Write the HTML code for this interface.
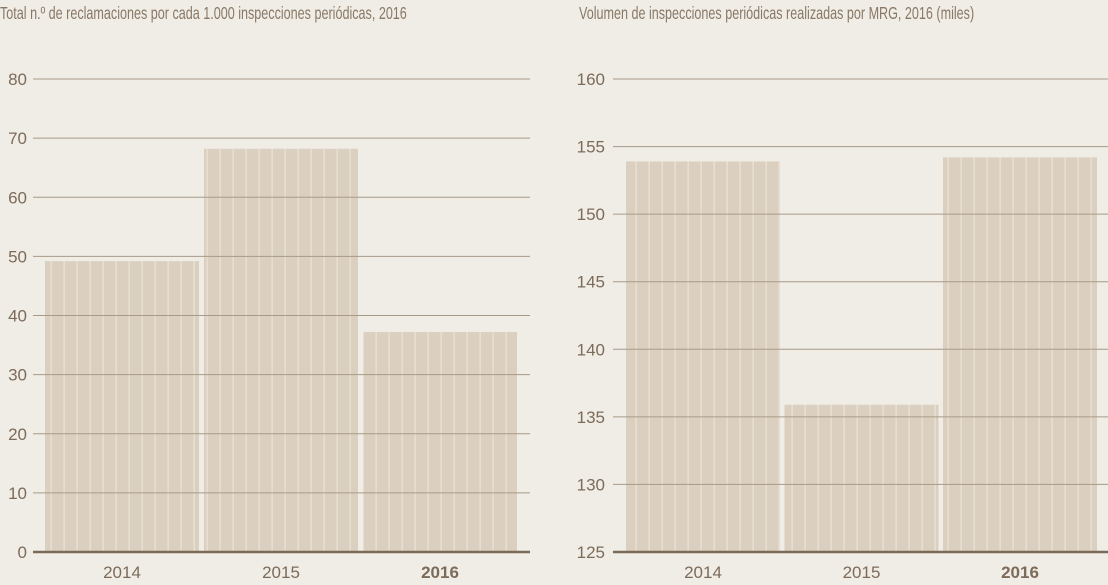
<!DOCTYPE html>
<html><head><meta charset="utf-8"><style>
body{margin:0;background:#efede6;width:1108px;height:585px;overflow:hidden;font-family:"Liberation Sans",sans-serif}
svg{display:block}
</style></head><body>
<svg width="1108" height="585" xmlns="http://www.w3.org/2000/svg">
<defs>
<pattern id="stripes" width="13" height="10" patternUnits="userSpaceOnUse">
<rect width="13" height="10" fill="#dbd0bf"/><rect x="11.5" width="1.3" height="10" fill="#e9e2d6"/>
</pattern>
</defs>
<g id="g1"></g>
<g id="g2"></g>
</svg>
<script>
const cats=["2014","2015","2016"];
const claimsVals=[49.2,68.2,37.2];
const claimsTicks=[0,10,20,30,40,50,60,70,80];
const inspVals=[153.9,135.9,154.2];
const inspTicks=[125,130,135,140,145,150,155,160];
const NS="http://www.w3.org/2000/svg";
function mk(p,t,a){const e=document.createElementNS(NS,t);for(const k in a)e.setAttribute(k,a[k]);p.appendChild(e);return e;}
function draw(g,cfg){
  const y=v=>552-(v-cfg.min)/(cfg.max-cfg.min)*473;
  const t=mk(g,'text',{x:cfg.tx,y:19,fill:'#8a7866','font-size':18,transform:`translate(${cfg.tx},0) scale(0.7,1) translate(${-cfg.tx},0)`});
  t.textContent=cfg.title;
  
  
  cfg.vals.forEach((v,i)=>{
    const x=cfg.bx+i*cfg.step;
    const r=mk(g,'rect',{x:x,y:y(v),width:cfg.bw,height:552-y(v),fill:'url(#stripes)'});
    
    
    const l=mk(g,'text',{x:x+cfg.bw/2,y:578,'text-anchor':'middle',fill:'#7d6b5a','font-size':17,'font-weight':i==2?'bold':'normal'});
    l.textContent=cats[i];
    
    
  });
  cfg.ticks.forEach(v=>{
    if(v!==cfg.min){
      const ln=mk(g,'line',{x1:cfg.gx1,x2:cfg.gx2,y1:y(v),y2:y(v),stroke:'#a89a88','stroke-width':1});
      
      
    }
    const tl=mk(g,'text',{x:cfg.lx,y:y(v)+6,'text-anchor':'end',fill:'#7d6b5a','font-size':17});
    tl.textContent=v;
    
    
  });
  const b=mk(g,'line',{x1:cfg.gx1,x2:cfg.gx2,y1:552,y2:552,stroke:'#7b6a58','stroke-width':2.5});
  
  
}
draw(document.getElementById('g1'),{title:"Total n.º de reclamaciones por cada 1.000  inspecciones periódicas, 2016",tx:0,min:0,max:80,vals:claimsVals,ticks:claimsTicks,bx:45,bw:154,step:159,gx1:33,gx2:530,lx:27});
draw(document.getElementById('g2'),{title:"Volumen de inspecciones periódicas realizadas por MRG, 2016  (miles)",tx:579,min:125,max:160,vals:inspVals,ticks:inspTicks,bx:626,bw:154,step:158.5,gx1:613,gx2:1108,lx:605});
</script>
</body></html>
